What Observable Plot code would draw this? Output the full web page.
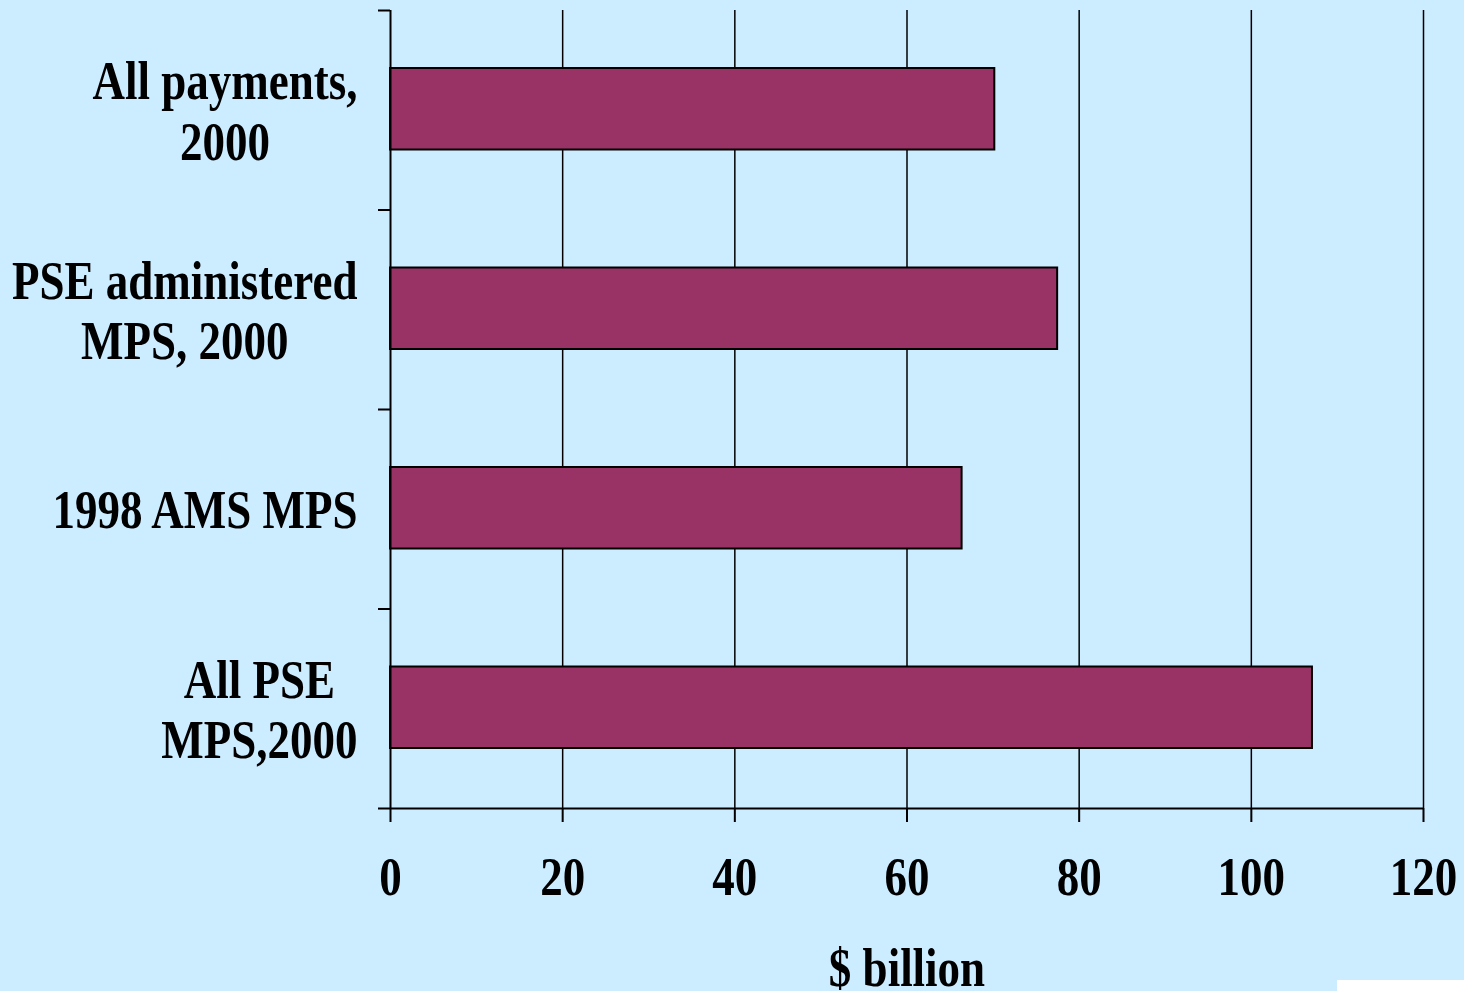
<!DOCTYPE html>
<html>
<head>
<meta charset="utf-8">
<script src="https://cdn.jsdelivr.net/npm/d3@7"></script>
<script src="https://cdn.jsdelivr.net/npm/@observablehq/plot@0.6"></script>
<style>
  html, body { margin: 0; padding: 0; background: #CCECFF; overflow: hidden; }
  #wrap { position: relative; width: 1464px; height: 991px; }
  #patch { position: absolute; left: 1337px; top: 980px; width: 127px; height: 11px; background: #ffffff; }
</style>
</head>
<body>
<div id="wrap"><div id="chart"></div><div id="patch"></div></div>
<script>
const categories = ["All payments,\n2000", "PSE administered\nMPS, 2000", "1998 AMS MPS", "All PSE\nMPS,2000"];
const values = [70.2, 77.5, 66.4, 107.1];
const xTicks = [0, 20, 40, 60, 80, 100, 120];
const xLabel = "$ billion";

const data = categories.map((c, i) => ({label: c, value: values[i], i}));
const bandEdges = d3.range(categories.length + 1);
const bandCenters = categories.map((c, i) => i + 0.5);

const font = "'Liberation Serif','Times New Roman',Times,serif";

const chart = Plot.plot({
  width: 1464,
  height: 991,
  marginLeft: 390,
  marginRight: 41,
  marginTop: 10,
  marginBottom: 183,
  style: {background: "#CCECFF", fontFamily: font, fontWeight: "bold", fontSize: "45px", color: "black", overflow: "visible"},
  x: {domain: [0, 120], axis: null},
  y: {domain: [0, categories.length], reverse: true, axis: null},
  marks: [
    Plot.ruleX(xTicks.filter(d => d > 0), {stroke: "black", strokeWidth: 1.5}),
    Plot.rectX(data, {x1: 0, x2: "value", y1: "i", y2: d => d.i + 1, insetTop: 58, insetBottom: 60, fill: "#993366", stroke: "black", strokeWidth: 2}),
    Plot.ruleX([0], {stroke: "black", strokeWidth: 2}),
    Plot.ruleY([categories.length], {stroke: "black", strokeWidth: 2}),
    Plot.axisY({ticks: bandEdges, tickSize: 12, tickFormat: () => "", stroke: "black", strokeWidth: 2, label: null}),
    Plot.axisY({ticks: bandCenters, tickSize: 0, tickPadding: 33, tickFormat: d => categories[Math.floor(d)], label: null,
      fontSize: 45, fontWeight: "bold", lineHeight: 1.12, fill: "black"}),
    Plot.axisX({ticks: xTicks, tickSize: 14, tickPadding: 38, tickFormat: d => String(d), stroke: "black", strokeWidth: 2,
      fontSize: 45, fontWeight: "bold", fill: "black", label: null}),
    Plot.text([xLabel], {frameAnchor: "bottom", dy: 160, fontSize: 45, fontWeight: "bold", fill: "black", lineAnchor: "middle"})
  ]
});

document.getElementById("chart").appendChild(chart);

// center the lines of each multi-line category label within its block
chart.querySelectorAll('g[aria-label="y-axis tick label"] text').forEach(t => {
  const spans = t.querySelectorAll("tspan");
  if (spans.length > 1) {
    const w = Math.max(...[...spans].map(s => s.getComputedTextLength()));
    t.setAttribute("text-anchor", "middle");
    spans.forEach(s => s.setAttribute("x", (+(s.getAttribute("x") || 0)) - w / 2));
  }
});
// tall, condensed look of the original lettering
chart.querySelectorAll("text").forEach(t => {
  if (!t.textContent) return;
  const b = t.getBBox();
  const cy = b.y + b.height / 2;
  t.setAttribute("transform", (t.getAttribute("transform") || "") + ` translate(0,${cy}) scale(1,1.2) translate(0,${-cy})`);
});
</script>
</body>
</html>
